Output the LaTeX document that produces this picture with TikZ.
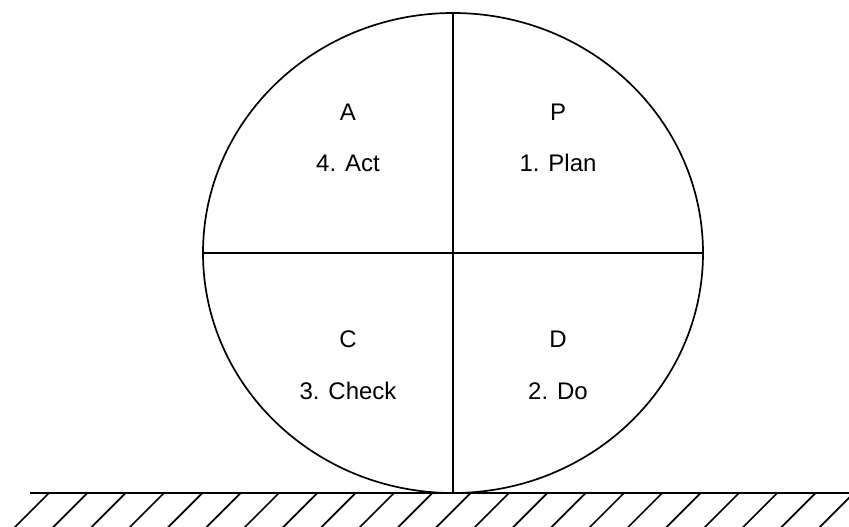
\documentclass[tikz,border=0pt]{standalone}
\usepackage{fontspec}
\setmainfont{Liberation Sans}
\usetikzlibrary{positioning}

\begin{document}
\begin{tikzpicture}[x=1pt,y=-1pt,line width=1.7pt,
 lbl/.style={font=\fontsize{24}{28}\selectfont,inner sep=0pt}]
\clip (0,0) rectangle (849,527);
\coordinate (o) at (453,253);
\coordinate (top) at (453,13); \coordinate (bot) at (453,493);
\coordinate (lft) at (203,253); \coordinate (rgt) at (703,253);
\coordinate (g1) at (30,493); \coordinate (g2) at (849,493);
\draw (o) ellipse [x radius=250pt,y radius=240pt];
\draw (top)--(bot); \draw (lft)--(rgt);
\draw (g1)--(g2);
\foreach \i in {0,...,21} \draw (49+38.33*\i,493) -- ++(-40,40);
\node[lbl] (a) at (348,112) {A};
\node[lbl] (act) at (348,163) {4. Act};
\node[lbl] (p) at (558,112) {P};
\node[lbl] (plan) at (558,163) {1. Plan};
\node[lbl] (c) at (348,339) {C};
\node[lbl] (check) at (348,391) {3. Check};
\node[lbl] (d) at (558,339) {D};
\node[lbl] (do) at (558,391) {2. Do};
\end{tikzpicture}
\end{document}
